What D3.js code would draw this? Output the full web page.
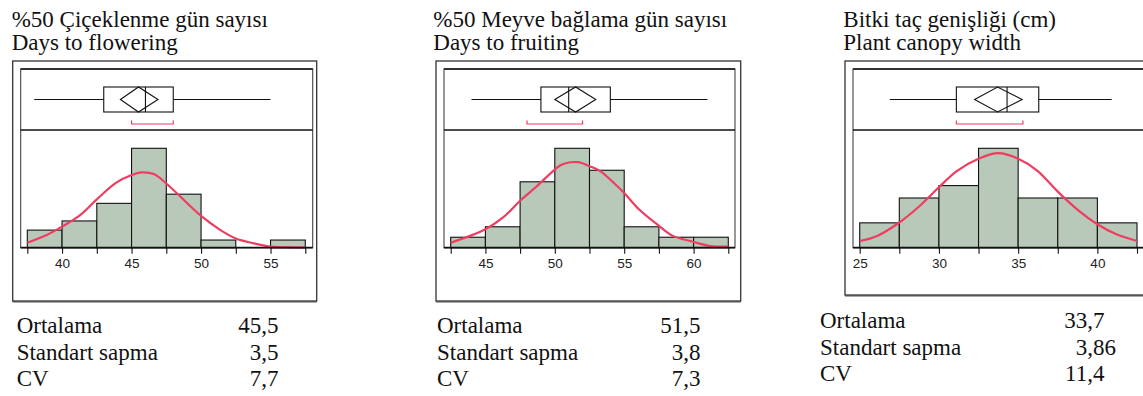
<!DOCTYPE html>
<html>
<head>
<meta charset="utf-8">
<script src="https://cdn.jsdelivr.net/npm/d3@7"></script>
<style>
  body { margin: 0; background: #fff; }
  svg { display: block; }
</style>
</head>
<body>
<div id="vis-holder"></div>
<script>
// Values
const titlesTr = ["%50 Çiçeklenme gün sayısı", "%50 Meyve bağlama gün sayısı", "Bitki taç genişliği (cm)"];
const titlesEn = ["Days to flowering", "Days to fruiting", "Plant canopy width"];

// histogram bins (width 2.5) and bar heights
const binStart = [37.5, 42.5, 25];
const binWidth = 2.5;
const counts1 = [2.3, 3.5, 5.8, 13, 7, 1, 0, 1];
const counts2 = [1, 2, 6.3, 9.5, 7.4, 2, 1, 1];
const counts3 = [2, 4, 5, 8, 4, 4, 2];

// labelled ticks
const tickLabels1 = [40, 45, 50, 55];
const tickLabels2 = [45, 50, 55, 60];
const tickLabels3 = [25, 30, 35, 40];

// fitted normal curve [value, height]
const curve1 = [[37.5, 0.65], [38.9, 1.66], [40, 2.75], [41.3, 4.27], [42.5, 6.32], [43.9, 8.5], [45, 9.5],
  [45.7, 9.85], [46.6, 9.63], [47.5, 8.4], [50, 4.15], [51.4, 2.3], [52.5, 1.2], [53.8, 0.57], [55, 0.13],
  [56.3, 0.05], [57.5, 0]];
const curve2 = [[42.5, 0.48], [45, 1.77], [46.3, 2.92], [47.5, 4.49], [48.7, 5.87], [50, 7.47], [50.6, 8.0],
  [51.7, 8.17], [52.5, 7.79], [53.3, 7.3], [54.2, 6.25], [55, 5.23], [56.1, 3.62], [57.5, 2.09], [58.5, 1.13],
  [60, 0.55], [61.2, 0.16], [62.5, 0.1]];
const curve3 = [[25, 0.54], [26.1, 0.95], [27.5, 2.03], [28.8, 3.38], [30, 4.86], [31.1, 6.15], [32.5, 7.16],
  [33.75, 7.61], [35, 7.16], [36.2, 6.21], [37.5, 4.51], [38.7, 3.11], [40, 1.89], [41.2, 1.08], [42.5, 0.54]];

// outlier box plot: [min, q1, median, q3, max]
const box1 = [38, 43, 46, 48, 55];
const box2 = [44, 49, 51, 54, 61];
const box3 = [26.9, 31.1, 34.3, 36.3, 40.9];
// means diamond: [lower, mean, upper]
const diamond1 = [44.2, 45.5, 46.9];
const diamond2 = [50, 51.5, 52.95];
const diamond3 = [32.25, 33.7, 35.25];
// shortest half bracket
const short1 = [45, 48];
const short2 = [48, 52];
const short3 = [31.1, 35.3];

const statLabels = ["Ortalama", "Standart sapma", "CV"];
const stats1 = ["45,5", "3,5", "7,7"];
const stats2 = ["51,5", "3,8", "7,3"];
const stats3 = ["33,7", "3,86", "11,4"];

// page geometry
const width = 1143, height = 396;
const innerTop = 69, divider = 130, baseline = 247.7;
const boxTop = 87, boxBottom = 112, bracketY = 124;

const panels = [
  { counts: counts1, curve: curve1, box: box1, diamond: diamond1, short: short1, stats: stats1, ticks: tickLabels1,
    frame: [12.7, 61, 316.7, 301], inner: [20.7, 312.7], range: [27.3, 305.3], titleX: 11.7, statX: 16.7, commaX: 267, statY: 333 },
  { counts: counts2, curve: curve2, box: box2, diamond: diamond2, short: short2, stats: stats2, ticks: tickLabels2,
    frame: [436, 61, 740.7, 301], inner: [444, 735], range: [450.7, 728.3], titleX: 433.3, statX: 437, commaX: 689, statY: 333 },
  { counts: counts3, curve: curve3, box: box3, diamond: diamond3, short: short3, stats: stats3, ticks: tickLabels3,
    frame: [845, 61, 1160, 295], inner: [853, 1150], range: [859.7, 1137], titleX: 843.3, statX: 820, commaX: 1093, statY: 328 }
];

const svg = d3.select("#vis-holder")
  .append("svg")
  .attr("width", width)
  .attr("height", height);

const serif = "'Liberation Serif', 'Times New Roman', serif";
const sans = "'Liberation Sans', Arial, sans-serif";
const red = "#ee3d61";

panels.forEach((p, i) => {
  const g = svg.append("g");
  const n = p.counts.length;
  const start = binStart[i];
  const end = start + n * binWidth;

  // x scale shared by box plot and histogram
  const x = d3.scaleLinear().domain([start, end]).range(p.range);
  const maxC = d3.max(p.counts);
  const y = d3.scaleLinear()
    .domain([0, maxC * (baseline - divider) / 99.4])
    .range([baseline, divider]);

  // titles
  g.append("text").attr("x", p.titleX).attr("y", 26.5)
    .attr("font-family", serif).attr("font-size", 23).attr("fill", "#111")
    .text(titlesTr[i]);
  g.append("text").attr("x", p.titleX).attr("y", 50)
    .attr("font-family", serif).attr("font-size", 23).attr("fill", "#111")
    .text(titlesEn[i]);

  // outer frame
  const [fx0, fy0, fx1, fy1] = p.frame;
  g.append("rect").attr("x", fx0).attr("y", fy0)
    .attr("width", fx1 - fx0).attr("height", fy1 - fy0)
    .attr("fill", "none").attr("stroke", "#333").attr("stroke-width", 1.3);
  g.append("line").attr("x1", fx0).attr("x2", fx1).attr("y1", fy1 + 0.8).attr("y2", fy1 + 0.8)
    .attr("stroke", "#555").attr("stroke-width", 1.5);

  // inner frame
  const [ix0, ix1] = p.inner;
  g.append("rect").attr("x", ix0).attr("y", innerTop)
    .attr("width", ix1 - ix0).attr("height", baseline - innerTop)
    .attr("fill", "none").attr("stroke", "#444").attr("stroke-width", 1.1);
  g.append("line").attr("x1", ix0).attr("x2", ix1).attr("y1", innerTop).attr("y2", innerTop)
    .attr("stroke", "#111").attr("stroke-width", 1.6);
  g.append("line").attr("x1", ix0).attr("x2", ix1).attr("y1", divider).attr("y2", divider)
    .attr("stroke", "#111").attr("stroke-width", 1.6);

  // histogram bars
  g.selectAll(".bar")
    .data(p.counts)
    .enter()
    .append("rect")
      .attr("class", "bar")
      .attr("x", (d, j) => x(start + j * binWidth))
      .attr("y", (d) => y(d))
      .attr("width", x(start + binWidth) - x(start))
      .attr("height", (d) => baseline - y(d))
      .attr("fill", (d) => d > 0 ? "#b9c9b9" : "none")
      .attr("stroke", (d) => d > 0 ? "#111" : "none")
      .attr("stroke-width", 1.1);

  // normal curve
  g.append("path")
    .datum(p.curve)
    .attr("fill", "none")
    .attr("stroke", red)
    .attr("stroke-width", 2.2)
    .attr("d", d3.line().x((d) => x(d[0])).y((d) => y(d[1])).curve(d3.curveCatmullRom));

  // baseline
  g.append("line").attr("x1", ix0).attr("x2", ix1).attr("y1", baseline).attr("y2", baseline)
    .attr("stroke", "#111").attr("stroke-width", 1.8);

  // x axis: ticks at bin edges, labels every 5
  const edges = d3.range(n + 1).map((j) => start + j * binWidth);
  g.append("g")
    .attr("transform", `translate(0,${baseline})`)
    .call(d3.axisBottom(x)
      .tickValues(edges)
      .tickSize(6)
      .tickSizeOuter(0)
      .tickFormat((v) => p.ticks.includes(v) ? v : ""))
    .call((a) => a.select(".domain").remove())
    .call((a) => a.selectAll(".tick line").attr("stroke", "#111").attr("stroke-width", 1.1))
    .call((a) => a.selectAll(".tick text")
      .attr("font-family", sans).attr("font-size", 13.5).attr("fill", "#222").attr("dy", "0.95em").attr("y", 7));

  // box plot: whiskers, box, median
  const [mn, q1, med, q3, mx] = p.box;
  const midY = (boxTop + boxBottom) / 2;
  g.append("line").attr("x1", x(mn)).attr("x2", x(q1)).attr("y1", midY).attr("y2", midY)
    .attr("stroke", "#111").attr("stroke-width", 1.1);
  g.append("line").attr("x1", x(q3)).attr("x2", x(mx)).attr("y1", midY).attr("y2", midY)
    .attr("stroke", "#111").attr("stroke-width", 1.1);
  g.append("rect").attr("x", x(q1)).attr("y", boxTop)
    .attr("width", x(q3) - x(q1)).attr("height", boxBottom - boxTop)
    .attr("fill", "none").attr("stroke", "#111").attr("stroke-width", 1.1);
  g.append("line").attr("x1", x(med)).attr("x2", x(med)).attr("y1", boxTop).attr("y2", boxBottom)
    .attr("stroke", "#111").attr("stroke-width", 1.1);

  // means diamond
  const [lo, mean, hi] = p.diamond;
  g.append("path")
    .attr("d", `M${x(lo)},${midY}L${x(mean)},${boxTop}L${x(hi)},${midY}L${x(mean)},${boxBottom}Z`)
    .attr("fill", "none").attr("stroke", "#111").attr("stroke-width", 1.1);

  // shortest half bracket
  const [s0, s1] = p.short;
  g.append("path")
    .attr("d", `M${x(s0)},${bracketY - 3.5}V${bracketY}H${x(s1)}V${bracketY - 3.5}`)
    .attr("fill", "none").attr("stroke", red).attr("stroke-width", 1.2);

  // summary statistics
  statLabels.forEach((lab, k) => {
    const yy = p.statY + k * 26.7;
    g.append("text").attr("x", p.statX).attr("y", yy)
      .attr("font-family", serif).attr("font-size", 23).attr("fill", "#111")
      .text(lab);
    const parts = p.stats[k].split(",");
    g.append("text").attr("x", p.commaX).attr("y", yy)
      .attr("text-anchor", "end")
      .attr("font-family", serif).attr("font-size", 23).attr("fill", "#111")
      .text(parts[0] + ",");
    g.append("text").attr("x", p.commaX).attr("y", yy)
      .attr("font-family", serif).attr("font-size", 23).attr("fill", "#111")
      .text(parts[1]);
  });
});
</script>
</body>
</html>
